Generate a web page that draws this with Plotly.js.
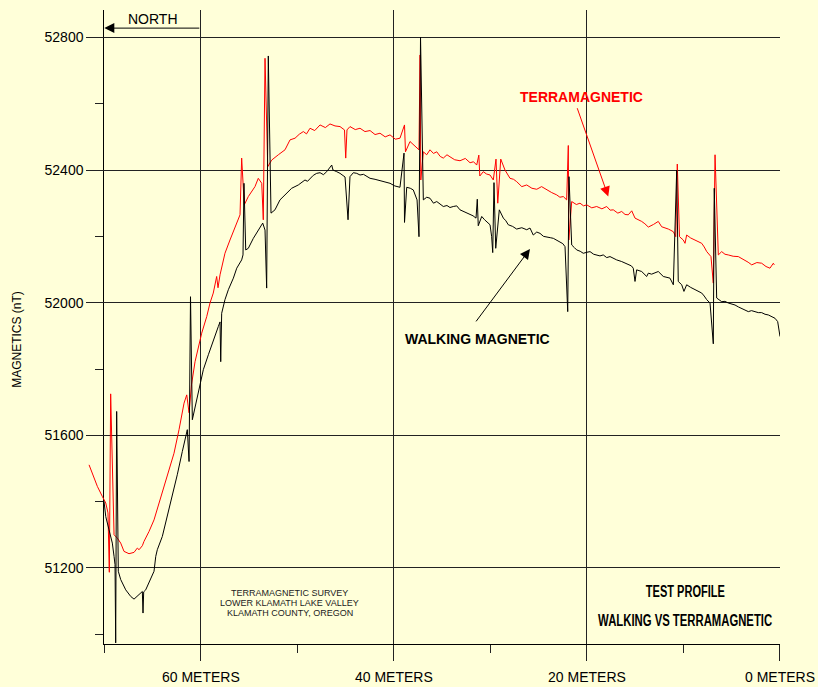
<!DOCTYPE html>
<html>
<head>
<meta charset="utf-8">
<script src="https://cdn.plot.ly/plotly-3.0.1.min.js"></script>
<style>
  html, body { margin: 0; padding: 0; background: #FFFFD9; }
  #chart { width: 818px; height: 687px; }
</style>
</head>
<body>
<div id="chart"></div>
<script>
// Distance along profile (meters) and magnetic field (nT)
var terraX = [71.58,71.24,70.72,70.21,69.85,69.62,69.48,69.34,69.07,68.99,68.65,68.30,67.96,67.44,66.92,66.58,66.40,66.06,65.89,65.37,64.85,64.33,63.81,63.30,62.78,62.26,61.74,61.46,61.22,60.97,60.60,59.91,59.39,59.05,58.71,58.36,58.22,58.01,57.50,56.98,56.46,55.94,55.77,55.50,55.08,54.39,54.05,53.69,53.53,53.35,53.07,52.66,51.97,51.28,50.76,50.24,49.80,49.38,49.05,48.69,48.20,47.65,47.10,46.62,46.10,45.58,45.12,44.99,44.86,44.55,44.00,43.51,43.00,42.47,41.95,41.44,40.90,40.40,39.85,39.37,38.90,38.80,38.33,37.81,37.40,37.29,37.21,36.95,36.60,36.26,35.90,35.56,35.20,34.88,34.50,34.19,33.70,33.15,32.60,32.11,31.75,31.42,31.20,31.10,30.74,30.40,30.04,29.70,29.42,29.24,28.93,28.49,27.97,27.60,27.28,26.75,26.24,25.70,25.20,24.70,24.17,23.65,23.13,22.80,22.45,22.10,21.93,21.88,21.58,21.10,20.72,20.35,20.02,19.50,18.99,18.45,17.95,17.60,17.27,16.80,16.40,16.05,15.72,15.36,15.02,14.65,14.33,14.00,13.64,13.10,12.61,12.26,11.90,11.57,11.30,11.05,10.80,10.64,10.41,10.02,9.84,9.67,9.25,8.81,8.45,8.11,7.85,7.59,7.15,6.91,6.73,6.39,6.04,5.70,5.36,4.85,4.32,4.00,3.63,3.30,2.93,2.40,1.90,1.45,1.04,0.69,0.59];
var terraY = [51511,51486,51446,51416,51396,51366,51187,51725,51315,51300,51290,51275,51250,51243,51247,51260,51255,51267,51280,51310,51345,51396,51446,51496,51546,51617,51697,51722,51668,51752,51822,51908,51958,51999,52029,52079,52045,52084,52149,52189,52229,52265,52436,52295,52320,52350,52375,52360,52250,52737,52410,52430,52446,52461,52491,52496,52508,52516,52509,52526,52519,52536,52528,52539,52533,52531,52521,52436,52521,52531,52522,52526,52516,52519,52507,52511,52500,52506,52493,52496,52536,52455,52486,52471,52461,52747,52370,52455,52446,52461,52450,52455,52441,52436,52446,52440,52431,52428,52435,52422,52425,52415,52445,52382,52395,52388,52385,52370,52433,52300,52433,52400,52375,52372,52365,52350,52355,52345,52342,52350,52340,52332,52325,52318,52320,52310,52474,52189,52305,52296,52300,52292,52295,52286,52290,52283,52290,52279,52280,52270,52275,52266,52265,52277,52255,52250,52245,52238,52228,52236,52245,52229,52226,52222,52218,52214,52199,52418,52199,52189,52179,52204,52195,52189,52183,52179,52168,52154,52139,52059,52446,52144,52154,52146,52144,52140,52139,52134,52129,52122,52114,52121,52119,52109,52104,52119,52114];

var walkX = [70.03,69.85,69.51,69.17,68.99,68.89,68.82,68.72,68.55,68.30,67.78,67.26,66.92,66.40,66.06,65.99,65.92,65.71,65.19,64.85,64.67,64.51,63.99,63.47,62.95,62.44,61.92,61.57,61.40,61.22,61.07,60.88,60.53,60.09,59.74,59.22,58.71,58.19,58.01,57.94,57.84,57.50,57.15,56.63,56.28,55.77,55.63,55.53,55.35,55.08,54.56,53.87,53.59,53.35,53.18,53.01,52.73,52.32,51.80,51.28,50.59,49.90,49.21,48.95,48.69,48.35,48.00,47.65,47.30,46.96,46.44,46.31,45.92,45.58,45.06,44.75,44.55,44.20,43.85,43.51,43.15,42.82,42.47,41.95,41.44,40.90,40.40,39.90,39.37,38.95,38.90,38.67,38.30,37.99,37.60,37.40,37.24,36.95,36.60,36.26,35.90,35.56,35.20,34.88,34.50,34.19,33.85,33.49,33.15,32.81,32.45,32.11,31.80,31.49,31.36,31.26,30.90,30.60,30.38,30.04,29.87,29.76,29.63,29.45,29.08,28.66,28.40,28.15,27.70,27.28,26.75,26.24,25.90,25.56,25.20,24.86,24.50,24.17,23.80,23.48,23.10,22.79,22.50,22.27,21.99,21.86,21.58,21.30,21.06,20.70,20.38,20.00,19.68,19.30,18.99,18.65,18.31,17.95,17.61,17.25,16.92,16.40,16.05,15.72,15.40,15.20,15.02,14.85,14.33,13.81,13.64,13.30,12.95,12.61,12.09,11.75,11.40,11.05,10.70,10.54,10.18,9.95,9.67,9.25,8.81,8.45,8.11,7.85,7.59,7.25,6.91,6.81,6.56,6.04,5.70,5.36,5.00,4.66,4.30,3.97,3.60,3.28,2.95,2.59,2.25,1.90,1.55,1.21,0.85,0.52,0.24,0.00];
var walkY = [51401,51355,51315,51275,51235,51210,50974,51672,51190,51165,51134,51114,51106,51119,51129,51064,51128,51134,51165,51190,51235,51255,51295,51355,51416,51481,51551,51597,51617,51521,52018,51647,51692,51747,51798,51843,51888,51928,51942,51822,51968,52009,52039,52074,52104,52129,52144,52360,52159,52164,52194,52229,52240,52219,52044,52744,52270,52280,52310,52325,52345,52355,52370,52366,52375,52384,52390,52392,52386,52395,52415,52400,52395,52390,52379,52250,52380,52392,52390,52385,52387,52380,52375,52372,52368,52364,52360,52352,52348,52451,52242,52348,52345,52340,52310,52199,52801,52310,52318,52315,52300,52305,52296,52290,52293,52287,52290,52292,52280,52275,52272,52265,52262,52255,52312,52232,52260,52250,52245,52235,52199,52151,52362,52164,52280,52255,52247,52235,52230,52222,52226,52220,52225,52204,52213,52209,52200,52199,52196,52194,52188,52184,52178,52169,51973,52380,52174,52166,52159,52155,52149,52152,52154,52146,52144,52141,52144,52136,52139,52133,52129,52124,52119,52114,52111,52104,52064,52099,52094,52079,52089,52086,52091,52094,52079,52077,52074,52054,52400,52064,52054,52034,52054,52046,52039,52035,52029,52020,52009,51999,51876,52345,52014,52003,52004,51999,51996,51993,51987,51983,51979,51973,51976,51973,51970,51970,51965,51963,51958,51953,51943,51898];

var xTickSuffix = ' METERS';
var yTitle = 'MAGNETICS (nT)';
var captionLines = ['TERRAMAGNETIC SURVEY', 'LOWER KLAMATH LAKE VALLEY', 'KLAMATH COUNTY, OREGON'];
var profileLines = ['TEST PROFILE', 'WALKING VS TERRAMAGNETIC'];

var font = 'Liberation Sans, Arial, Helvetica, sans-serif';
var narrow = 'Liberation Sans Narrow, Arial Narrow, Liberation Sans, Arial, sans-serif';
var bg = '#FFFFD9';
var gridC = '#222222';

var traces = [
  // anchor trace so that the main x/y subplot (axes, grid) is built
  { x: [null], y: [null], xaxis: 'x', yaxis: 'y', type: 'scatter', mode: 'lines',
    showlegend: false, hoverinfo: 'skip' },
  { x: terraX, y: terraY, xaxis: 'x2', yaxis: 'y', type: 'scatter', mode: 'lines',
    line: { color: '#FF0000', width: 1 }, name: 'TERRAMAGNETIC', hoverinfo: 'skip' },
  { x: walkX, y: walkY, xaxis: 'x2', yaxis: 'y', type: 'scatter', mode: 'lines',
    line: { color: '#000000', width: 1 }, name: 'WALKING MAGNETIC', hoverinfo: 'skip' }
];

var annotations = [
  { xref: 'paper', yref: 'paper', x: -0.1026, y: 0.4797, text: yTitle, textangle: -90, showarrow: false,
    xanchor: 'center', yanchor: 'middle', font: { family: font, size: 12, color: '#000' } },
  { xref: 'x', yref: 'y', x: 65.0, y: 52855, text: 'NORTH', showarrow: false,
    font: { family: font, size: 14, color: '#000' } },
  { xref: 'x', yref: 'y', x: 70, y: 52828, ax: 60, ay: 52828, axref: 'x', ayref: 'y',
    text: '', showarrow: true, arrowhead: 2, arrowsize: 2, arrowwidth: 1, arrowcolor: '#000', standoff: 0 },
  { xref: 'x', yref: 'y', x: 20.56, y: 52621, text: '<b>TERRAMAGNETIC</b>', showarrow: false,
    font: { family: font, size: 14, color: '#FF0000' } },
  { xref: 'x', yref: 'y', x: 17.79, y: 52320, ax: 21.06, ay: 52591, axref: 'x', ayref: 'y',
    text: '', showarrow: true, arrowhead: 2, arrowsize: 2, arrowwidth: 1, arrowcolor: '#FF0000', standoff: 0 },
  { xref: 'x', yref: 'y', x: 31.34, y: 51891, text: '<b>WALKING MAGNETIC</b>', showarrow: false,
    font: { family: font, size: 14, color: '#000' } },
  { xref: 'x', yref: 'y', x: 25.90, y: 52162, ax: 31.60, ay: 51939, axref: 'x', ayref: 'y',
    text: '', showarrow: true, arrowhead: 2, arrowsize: 2, arrowwidth: 1, arrowcolor: '#000', standoff: 0 },
  { xref: 'x', yref: 'y', x: 50.81, y: 51124, text: captionLines[0], showarrow: false,
    font: { family: font, size: 9, color: '#222' } },
  { xref: 'x', yref: 'y', x: 50.81, y: 51094, text: captionLines[1], showarrow: false,
    font: { family: font, size: 9, color: '#222' } },
  { xref: 'x', yref: 'y', x: 50.81, y: 51064, text: captionLines[2], showarrow: false,
    font: { family: font, size: 9, color: '#222' } },
  { xref: 'x', yref: 'y', x: 9.77, y: 51129, text: '<b>' + profileLines[0] + '</b>', showarrow: false,
    font: { family: narrow, size: 16, color: '#000' } },
  { xref: 'x', yref: 'y', x: 9.77, y: 51041, text: '<b>' + profileLines[1] + '</b>', showarrow: false,
    font: { family: narrow, size: 16, color: '#000' } }
];

var layout = {
  width: 818, height: 687,
  margin: { l: 88, r: 38, t: 10, b: 43 },
  paper_bgcolor: bg, plot_bgcolor: 'rgba(0,0,0,0)',
  showlegend: false,
  font: { family: font, size: 14, color: '#000' },
  xaxis: {
    domain: [0.02355, 1], range: [70, 0], anchor: 'y',
    tickmode: 'linear', tick0: 0, dtick: 20, ticksuffix: xTickSuffix,
    ticks: 'outside', ticklen: 16, tickwidth: 1, tickcolor: gridC, ticklabelstandoff: 4,
    showline: true, linecolor: '#000', linewidth: 1,
    showgrid: true, gridcolor: gridC, gridwidth: 1, zeroline: false,
    minor: { dtick: 10, tick0: 0, ticks: 'outside', ticklen: 8, tickcolor: gridC, showgrid: false },
    tickfont: { family: font, size: 14, color: '#000' }
  },
  xaxis2: {
    domain: [0, 1], range: [71.689, 0], anchor: 'y', visible: false, showgrid: false, zeroline: false
  },
  yaxis: {
    domain: [0, 1], range: [50970.7, 52882.6], anchor: 'x',
    tickmode: 'linear', tick0: 51200, dtick: 400,
    ticks: 'outside', ticklen: 17, tickwidth: 1, tickcolor: gridC,
    showline: true, linecolor: '#000', linewidth: 1, mirror: false,
    showgrid: true, gridcolor: gridC, gridwidth: 1, zeroline: false,
    minor: { dtick: 200, tick0: 51000, ticks: 'outside', ticklen: 8, tickcolor: gridC, showgrid: false },
    tickfont: { family: font, size: 14, color: '#000' },
    tickformat: 'd'
  },
  annotations: annotations
};

Plotly.newPlot('chart', traces, layout, { staticPlot: true, displayModeBar: false }).then(function (gd) {
  var widths = {};
  widths[profileLines[0]] = 79;
  widths[profileLines[1]] = 174;
  gd.querySelectorAll('text.annotation-text').forEach(function (t) {
    var s = t.textContent;
    if (widths[s]) {
      t.setAttribute('textLength', widths[s]);
      t.setAttribute('lengthAdjust', 'spacingAndGlyphs');
      t.querySelectorAll('tspan').forEach(function (sp) {
        sp.setAttribute('textLength', widths[s]);
        sp.setAttribute('lengthAdjust', 'spacingAndGlyphs');
      });
    }
  });
});
</script>
</body>
</html>
